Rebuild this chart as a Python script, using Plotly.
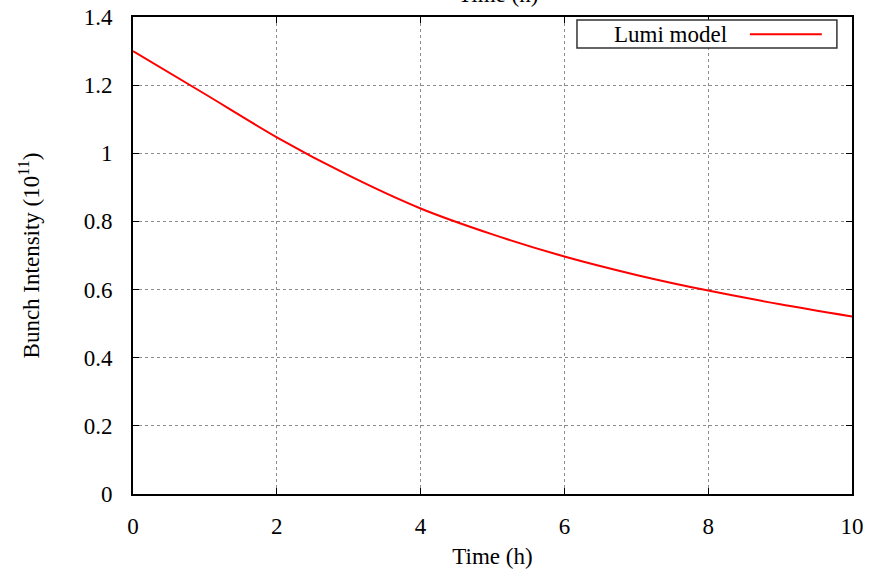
import plotly.graph_objects as go

# Data
time_h = [0, 1, 2, 3, 4, 5, 6, 7, 8, 9, 10]
intensity = [1.300, 1.174, 1.047, 0.935, 0.838, 0.762, 0.697, 0.643, 0.597, 0.557, 0.521]
series_name = "Lumi model"
x_ticks = [0, 2, 4, 6, 8, 10]
y_ticks = [0, 0.2, 0.4, 0.6, 0.8, 1.0, 1.2, 1.4]

FONT = "Liberation Serif"
FS = 23

fig = go.Figure()
fig.add_trace(go.Scatter(
    x=time_h, y=intensity, mode="lines", name=series_name,
    line=dict(color="#ff0000", width=2, shape="spline", smoothing=0.8),
    showlegend=False,
))

axis_common = dict(
    showline=True, linecolor="black", linewidth=2, mirror="ticks",
    ticks="inside", ticklen=6, tickcolor="black", tickwidth=1,
    showgrid=True, gridcolor="#8c8c8c", griddash="dot", gridwidth=1,
    zeroline=False, automargin=False,
    tickfont=dict(family=FONT, size=FS, color="black"),
)

fig.update_xaxes(
    range=[0, 10], tickvals=x_ticks, ticklabelstandoff=10,
    title=dict(text="Time (h)", font=dict(family=FONT, size=FS, color="black"), standoff=10),
    **axis_common,
)
fig.update_yaxes(
    range=[0, 1.4], tickvals=y_ticks, ticktext=[f"{v:g}" for v in y_ticks],
    ticklabelstandoff=14,
    title=dict(text="Bunch Intensity (10<sup>11</sup>)", font=dict(family=FONT, size=FS, color="black"), standoff=38),
    **axis_common,
)

# Legend box (gnuplot style: text on the left, line sample on the right)
fig.add_shape(type="rect", xref="paper", yref="paper",
              x0=0.6175, x1=0.979, y0=0.935, y1=0.9937,
              line=dict(color="#333333", width=1.5), fillcolor="white", layer="above")
fig.add_annotation(xref="paper", yref="paper", x=0.748, y=0.964, text=series_name,
                   showarrow=False, font=dict(family=FONT, size=FS, color="black"),
                   xanchor="center", yanchor="middle")
fig.add_shape(type="line", xref="paper", yref="paper",
              x0=0.858, x1=0.958, y0=0.964, y1=0.964,
              line=dict(color="#ff0000", width=2), layer="above")

# Partially visible top axis title
fig.add_annotation(xref="paper", yref="paper", x=0.507, y=1.0, yshift=17 + 6,
                   text="Time (h)", showarrow=False,
                   font=dict(family=FONT, size=FS, color="black"),
                   xanchor="center", yanchor="middle")

fig.update_layout(
    width=875, height=570,
    margin=dict(l=133, r=23, t=17, b=76),
    paper_bgcolor="white", plot_bgcolor="white",
    font=dict(family=FONT, size=FS, color="black"),
)

fig.write_html("out.html")
